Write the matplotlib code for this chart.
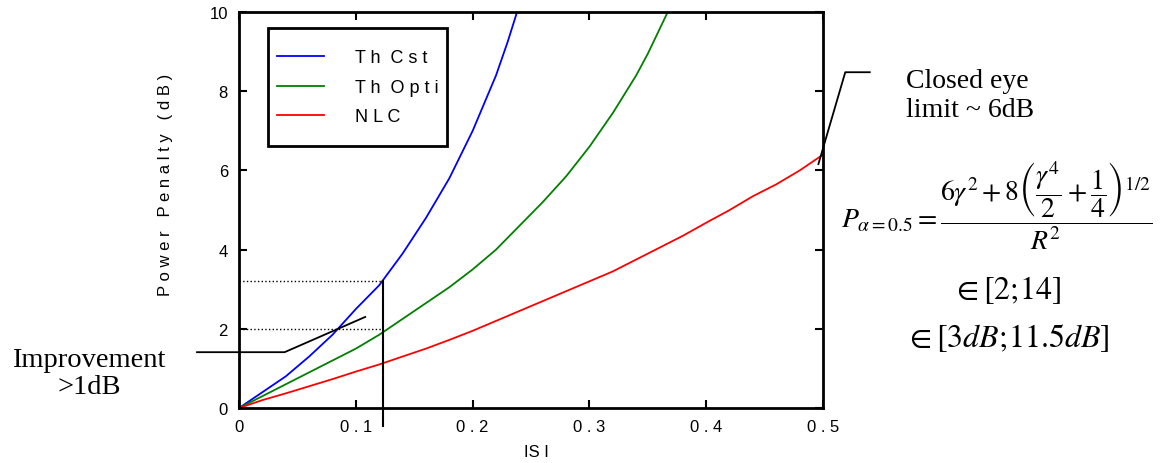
import matplotlib.pyplot as plt
from matplotlib.patches import Rectangle

# ISI axis values and power penalty (dB) for each curve
isi_cst = [0, 0.02, 0.04, 0.06, 0.08, 0.10, 0.12, 0.14, 0.16, 0.18, 0.20, 0.22, 0.23, 0.238]
pp_cst = [0, 0.4, 0.8, 1.3, 1.85, 2.5, 3.1, 3.9, 4.8, 5.8, 7.0, 8.4, 9.25, 10.0]

isi_opti = [0, 0.02, 0.04, 0.06, 0.08, 0.10, 0.12, 0.14, 0.16, 0.18, 0.20, 0.22, 0.24,
            0.26, 0.28, 0.30, 0.32, 0.34, 0.35, 0.367]
pp_opti = [0, 0.3, 0.6, 0.9, 1.2, 1.5, 1.85, 2.25, 2.65, 3.05, 3.5, 4.0, 4.6,
           5.2, 5.85, 6.6, 7.45, 8.4, 8.95, 10.0]

isi_nlc = [0, 0.02, 0.04, 0.06, 0.08, 0.10, 0.12, 0.14, 0.16, 0.18, 0.20, 0.22, 0.24,
           0.26, 0.28, 0.30, 0.32, 0.34, 0.36, 0.38, 0.40, 0.42, 0.44, 0.46, 0.48, 0.50]
pp_nlc = [0, 0.2, 0.37, 0.55, 0.73, 0.92, 1.1, 1.3, 1.5, 1.72, 1.95, 2.2, 2.45,
          2.7, 2.95, 3.2, 3.45, 3.75, 4.05, 4.35, 4.68, 5.0, 5.35, 5.65, 6.0, 6.4]

labels = ["T h  C s t", "T h  O p t i", "N L C"]
x_ticks = [0, 0.1, 0.2, 0.3, 0.4, 0.5]
x_ticklabels = ["0", "0 . 1", "0 . 2", "0 . 3", "0 . 4", "0 . 5"]
y_ticks = [0, 2, 4, 6, 8, 10]

# marked operating point
isi_mark = 0.123
pp_mark_hi = 3.2
pp_mark_lo = 2.0

plt.rcParams["mathtext.fontset"] = "stix"
plt.rcParams["font.family"] = ["Liberation Sans", "DejaVu Sans"]

fig = plt.figure(figsize=(11.65, 4.64), dpi=100)
ax = fig.add_axes([0.2052, 0.1185, 0.5013, 0.8534])

ax.plot(isi_cst, pp_cst, color="blue", lw=1.3, label=labels[0])
ax.plot(isi_opti, pp_opti, color="green", lw=1.3, label=labels[1])
ax.plot(isi_nlc, pp_nlc, color="red", lw=1.3, label=labels[2])

ax.set_xlim(0, 0.5)
ax.set_ylim(0, 10)
ax.set_xticks(x_ticks)
ax.set_xticklabels(x_ticklabels)
ax.set_yticks(y_ticks)
ax.tick_params(direction="in", top=True, right=True, length=6, width=1.5,
               labelsize=12, pad=8)
for s in ax.spines.values():
    s.set_linewidth(2)

ax.set_ylabel("P o w e r   P e n a l t y   ( d B )", fontsize=12)
ax.yaxis.set_label_coords(-0.113, 0.566)
ax.set_xlabel("IS I", fontsize=12)
ax.xaxis.set_label_coords(0.509, -0.109)
ax.xaxis.label.set_va("center")

# legend without its own frame; a taller box is drawn round it below
leg = ax.legend(loc="upper left", bbox_to_anchor=(0.0497, 0.929), fontsize=13,
                handlelength=2.6, handletextpad=1.7, borderpad=0.5,
                labelspacing=0.7, frameon=False, borderaxespad=0)

# guide lines at the marked point
ax.plot([0, isi_mark], [pp_mark_hi, pp_mark_hi], color="black", ls=":", lw=1)
ax.plot([0, isi_mark], [pp_mark_lo, pp_mark_lo], color="black", ls=":", lw=1)
ax.plot([isi_mark, isi_mark], [pp_mark_hi, -0.45], color="black", lw=1.5, clip_on=False)

# annotation pointers
ax.plot([-0.036, 0.039, 0.108], [1.41, 1.41, 2.3], color="black", lw=1.3, clip_on=False)
ax.plot([0.496, 0.519, 0.540], [6.16, 8.48, 8.48], color="black", lw=1.3, clip_on=False)

serif = "Liberation Serif"
fig.text(89 / 1165, 1 - 374 / 464, "Improvement\n>1dB", ha="center", va="center",
         fontsize=20.5, family=serif, linespacing=1.15)
fig.text(906 / 1165, 1 - 96 / 464, "Closed eye\nlimit ~ 6dB", ha="left", va="center",
         fontsize=20, family=serif, linespacing=1.25)

fig.text(841 / 1165, 1 - 206 / 464,
         r"$P_{\alpha=0.5}=\dfrac{6\gamma^2+8\left(\dfrac{\gamma^4}{2}+\dfrac{1}{4}\right)^{1/2}}{R^2}$",
         ha="left", va="center", fontsize=20)
fig.text(1007 / 1165, 1 - 290 / 464, r"$\in\left[2;\!14\right]$", ha="center",
         va="center", fontsize=23)
fig.text(1007 / 1165, 1 - 338 / 464, r"$\in\left[3dB;\!11.5dB\right]$", ha="center",
         va="center", fontsize=23)

fig.canvas.draw()
bb = leg.get_window_extent().transformed(fig.transFigure.inverted())
pad_y = 12 / 464
fig.add_artist(Rectangle((bb.x0, bb.y0 - pad_y), bb.width, bb.height + 2 * pad_y,
                         transform=fig.transFigure, fill=False, edgecolor="black",
                         lw=2, zorder=5))

fig.savefig("out.png", dpi=100)
